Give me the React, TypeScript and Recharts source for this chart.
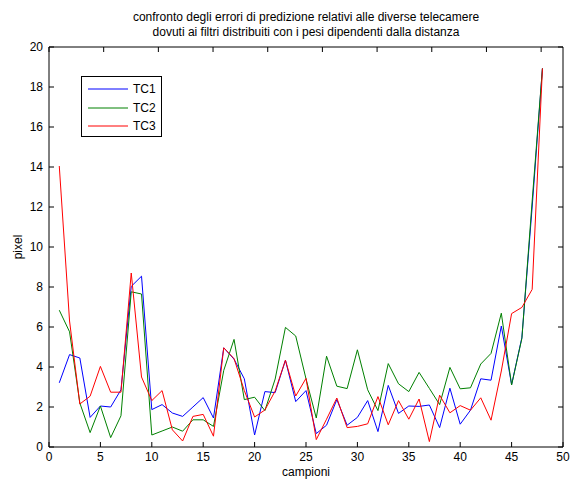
import { LineChart, Line, XAxis, YAxis, Legend } from "recharts";

// campioni 1..48
const samples = [
  1, 2, 3, 4, 5, 6, 7, 8, 9, 10, 11, 12, 13, 14, 15, 16, 17, 18, 19, 20, 21, 22, 23, 24,
  25, 26, 27, 28, 29, 30, 31, 32, 33, 34, 35, 36, 37, 38, 39, 40, 41, 42, 43, 44, 45, 46, 47, 48,
];

const tc1 = [
  3.21, 4.62, 4.45, 1.48, 2.05, 2.0, 2.86, 8.03, 8.54, 1.87, 2.12, 1.7, 1.53, 2.0, 2.47, 1.45,
  4.96, 4.39, 3.41, 0.6, 2.77, 2.72, 4.34, 2.27, 2.82, 0.67, 1.09, 2.37, 1.09, 1.48, 2.32, 0.77,
  3.08, 1.68, 2.05, 2.03, 2.1, 0.97, 2.94, 1.14, 1.84, 3.41, 3.34, 6.05, 3.12, 5.47, 12.0, 18.93,
];

const tc2 = [
  6.84, 5.76, 2.2, 0.72, 2.05, 0.47, 1.56, 7.76, 7.65, 0.6, 0.8, 1.0, 0.79, 1.36, 1.36, 1.03,
  3.83, 5.38, 2.37, 2.49, 1.82, 3.4, 5.98, 5.55, 3.41, 1.45, 4.54, 3.04, 2.92, 4.86, 2.86, 1.82,
  4.17, 3.16, 2.77, 3.73, 2.93, 2.12, 3.98, 2.91, 2.96, 4.15, 4.68, 6.69, 3.1, 5.43, 12.3, 18.93,
];

const tc3 = [
  14.05, 6.3, 2.15, 2.54, 4.03, 2.74, 2.74, 8.7, 3.5, 2.32, 2.82, 0.86, 0.3, 1.53, 1.63, 0.54,
  4.96, 4.42, 2.82, 1.5, 1.85, 2.8, 4.34, 2.55, 3.43, 0.37, 1.39, 2.45, 0.97, 1.03, 1.16, 2.52,
  1.11, 2.32, 1.39, 2.4, 0.27, 2.59, 1.71, 2.07, 1.84, 2.46, 1.34, 3.8, 6.67, 6.98, 7.88, 18.93,
];

const xTicks = [0, 5, 10, 15, 20, 25, 30, 35, 40, 45, 50];
const yTicks = [0, 2, 4, 6, 8, 10, 12, 14, 16, 18, 20];

const data = samples.map((s, i) => ({ s, tc1: tc1[i], tc2: tc2[i], tc3: tc3[i] }));

const font = "'Liberation Sans', Arial, sans-serif";
const tickStyle = { fill: "#000", fontSize: 12, fontFamily: font };

function LegendBox({ payload }: any) {
  return (
    <div
      style={{
        width: 79,
        height: 59,
        border: "1px solid #000",
        background: "#fff",
        fontFamily: font,
        fontSize: 12,
        position: "relative",
      }}
    >
      {(payload || []).map((p: any, i: number) => (
        <div
          key={p.value}
          style={{ position: "absolute", left: 6, top: 4 + i * 18.5, height: 16, display: "flex", alignItems: "center" }}
        >
          <svg width={42} height={4}>
            <line x1={0} x2={40} y1={2} y2={2} stroke={p.color} strokeWidth={1} />
          </svg>
          <span style={{ marginLeft: 3 }}>{p.value}</span>
        </div>
      ))}
    </div>
  );
}

export default function App() {
  return (
    <div style={{ position: "absolute", left: 0, top: 0, width: 570, height: 479, background: "#fff", fontFamily: font }}>
      <div
        style={{
          position: "absolute",
          left: 49,
          width: 514,
          top: 10,
          textAlign: "center",
          fontSize: 12,
          lineHeight: "15px",
        }}
      >
        confronto degli errori di predizione relativi alle diverse telecamere
        <br />
        dovuti ai filtri distribuiti con i pesi dipendenti dalla distanza
      </div>

      <LineChart width={570} height={479} data={data} margin={{ top: 46, right: 6, bottom: 2, left: 9 }}>
        <XAxis
          xAxisId="b"
          dataKey="s"
          type="number"
          domain={[0, 50]}
          ticks={xTicks}
          height={30}
          tickSize={-5}
          tickMargin={10}
          tick={tickStyle}
          stroke="#000"
          allowDataOverflow
        />
        <XAxis
          xAxisId="t"
          orientation="top"
          type="number"
          domain={[0, 50]}
          ticks={xTicks}
          height={1}
          tickSize={-5}
          tickFormatter={() => ""}
          stroke="#000"
          allowDataOverflow
        />
        <YAxis
          yAxisId="l"
          type="number"
          domain={[0, 20]}
          ticks={yTicks}
          width={40}
          tickSize={-5}
          tickMargin={11}
          tick={tickStyle}
          stroke="#000"
          allowDataOverflow
        />
        <YAxis
          yAxisId="r"
          orientation="right"
          type="number"
          domain={[0, 20]}
          ticks={yTicks}
          width={1}
          tickSize={-5}
          tickFormatter={() => ""}
          stroke="#000"
          allowDataOverflow
        />
        <Legend
          layout="vertical"
          align="center"
          verticalAlign="middle"
          content={<LegendBox />}
          wrapperStyle={{ left: 81, top: 76, width: 81, height: 61 }}
        />
        <Line xAxisId="b" yAxisId="l" dataKey="tc1" name="TC1" stroke="#0000ff" strokeWidth={1} dot={false} isAnimationActive={false} />
        <Line xAxisId="b" yAxisId="l" dataKey="tc2" name="TC2" stroke="#008000" strokeWidth={1} dot={false} isAnimationActive={false} />
        <Line xAxisId="b" yAxisId="l" dataKey="tc3" name="TC3" stroke="#ff0000" strokeWidth={1} dot={false} isAnimationActive={false} />
      </LineChart>

      <div
        style={{
          position: "absolute",
          left: 256,
          width: 100,
          top: 465,
          textAlign: "center",
          fontSize: 12,
          lineHeight: "14px",
        }}
      >
        campioni
      </div>
      <div
        style={{
          position: "absolute",
          left: 18,
          top: 247,
          fontSize: 12,
          transform: "translate(-50%, -50%) rotate(-90deg)",
        }}
      >
        pixel
      </div>
    </div>
  );
}
